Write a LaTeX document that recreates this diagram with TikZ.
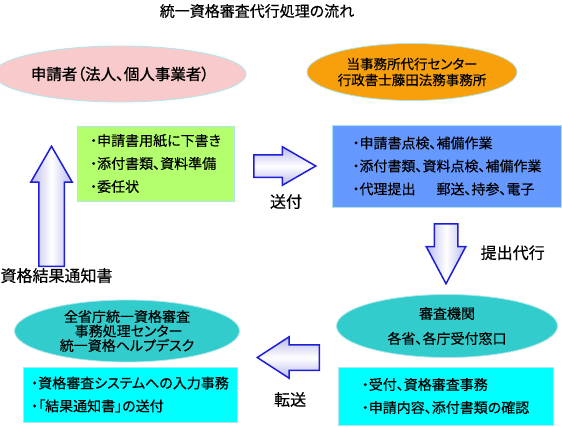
\documentclass[tikz,border=0pt]{standalone}
\usepackage{fontspec}
\setmainfont{Noto Sans CJK JP}[RawFeature={+palt}, FakeBold=0.35]
\newfontfamily\heavyfont{Noto Sans CJK JP}[RawFeature={+palt}, FakeBold=1.1]
\usetikzlibrary{shapes.geometric,shapes.arrows,positioning}

\definecolor{pinkfill}{RGB}{248,202,204}
\definecolor{orangefill}{RGB}{247,160,12}
\definecolor{greenfill}{RGB}{180,255,110}
\definecolor{bluefill}{RGB}{102,153,255}
\definecolor{tealfill}{RGB}{51,204,204}
\definecolor{cyanfill}{RGB}{0,255,255}
\definecolor{edgecol}{RGB}{175,230,235}
\definecolor{arrowblue}{RGB}{30,30,215}
\definecolor{arrowfill}{RGB}{185,185,240}

\begin{document}
\begin{tikzpicture}[
        x=1pt, y=-1pt,
        every node/.style={inner sep=0pt},
        oval/.style={ellipse, draw=edgecol, line width=0.8pt, align=center},
        box/.style={rectangle, draw=edgecol, line width=0.6pt, align=left, font=\fontsize{14}{23}\selectfont},
        blockarrow/.style={single arrow, draw=arrowblue, line width=1.5pt, single arrow tip angle=60, single arrow head extend=8pt, anchor=tail},
        horiz/.style={top color=arrowfill, bottom color=arrowfill, middle color=white},
        vert/.style={left color=arrowfill, right color=arrowfill, middle color=white},
        lbl/.style={font=\fontsize{16}{18}\selectfont}
    ]
        \useasboundingbox (0,0) rectangle (562,426);

        % Title
        \node[font=\fontsize{15}{17}\selectfont] (title) at (257,11) {統一資格審査代行処理の流れ};

        % Top row
        \node[oval, fill=pinkfill, minimum width=204pt, minimum height=56pt, font=\heavyfont\fontsize{15.5}{18}\selectfont] (applicant) at (120,74) {申請者（法人、個人事業者）};
        \node[oval, fill=orangefill, minimum width=205pt, minimum height=57pt, font=\fontsize{13.5}{16}\selectfont] (office) at (412,72) {当事務所代行センター\\行政書士藤田法務事務所};

        % Work boxes
        \node[box, fill=greenfill, minimum width=157pt, minimum height=75pt] (prep) at (155.5,163.5) {・申請書用紙に下書き\\・添付書類、資料準備\\・委任状};
        \node[box, fill=bluefill, minimum width=229pt, minimum height=82pt] (check) at (447,166) {・申請書点検、補備作業\\・添付書類、資料点検、補備作業\\・代理提出\hspace{1.5em}郵送、持参、電子};

        % Bottom row
        \node[oval, fill=tealfill, minimum width=225pt, minimum height=62pt, font=\fontsize{14}{14.5}\selectfont] (helpdesk) at (127,331) {全省庁統一資格審査\\\ 事務処理センター\\統一資格ヘルプデスク};
        \node[oval, fill=tealfill, minimum width=221pt, minimum height=63pt, font=\fontsize{14}{25}\selectfont] (agency) at (447,326) {審査機関\\各省、各庁受付窓口};
        \node[box, fill=cyanfill, minimum width=214pt, minimum height=55pt] (entry) at (130,394.5) {・資格審査システムへの入力事務\\・「結果通知書」の送付};
        \node[box, fill=cyanfill, minimum width=215pt, minimum height=58pt] (review) at (445.5,396) {・受付、資格審査事務\\・申請内容、添付書類の確認};

        % Block arrows (placed by their tails)
        \node[blockarrow, horiz, inner sep=10.5pt, minimum height=62pt, minimum width=37pt] (send) at (253,166) {};
        \node[blockarrow, vert, inner sep=11pt, minimum height=60pt, minimum width=38pt, shape border rotate=270, single arrow tip angle=56] (submit) at (446,223) {};
        \node[blockarrow, horiz, inner sep=12pt, minimum height=62pt, minimum width=40pt, shape border rotate=180, single arrow tip angle=66] (forward) at (320,357.5) {};
        \node[blockarrow, vert, inner sep=12pt, minimum height=120pt, minimum width=37pt, shape border rotate=90] (notify) at (51.5,267) {};

        % Arrow labels
        \node[lbl, below=16pt of send, xshift=11pt] (sendlbl) {送付};
        \node[lbl, right=22pt of submit, yshift=-10pt] (submitlbl) {提出代行};
        \node[lbl, below=21pt of forward, xshift=-8pt] (forwardlbl) {転送};
        \node[lbl, below=1pt of notify, xshift=5pt] (notifylbl) {資格結果通知書};

    \end{tikzpicture}
\end{document}
